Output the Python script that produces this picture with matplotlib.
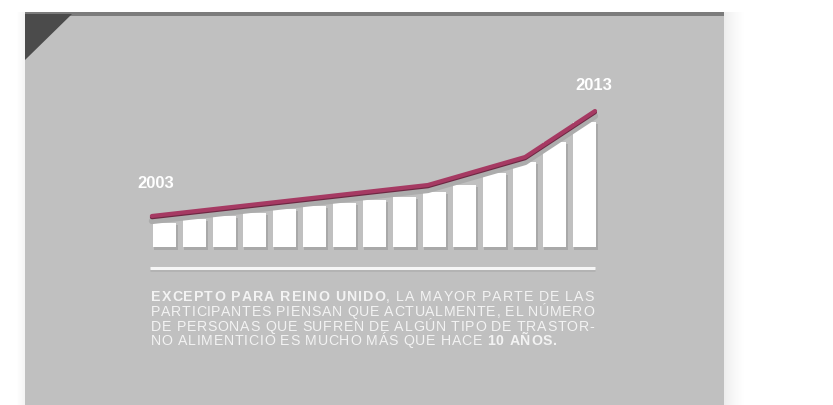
import numpy as np
import matplotlib
matplotlib.use("Agg")
import matplotlib.pyplot as plt
from matplotlib.patches import Rectangle, Polygon

# bar heights (arbitrary units), 2003 -> 2013
bar_vals = [24, 28, 31, 34, 38, 41, 44, 47, 50, 55, 62, 74, 85, 105, 125]
# trend line knots
line_x = [-0.42, 8.78, 12.02, 14.35]
line_y = [31, 62, 90, 136]

year_start = "2003"
year_end = "2013"

para_lines = [
    [("EXCEPTO PARA REINO UNIDO", True), (", LA MAYOR PARTE DE LAS", False)],
    [("PARTICIPANTES PIENSAN QUE ACTUALMENTE, EL NÚMERO", False)],
    [("DE PERSONAS QUE SUFREN DE ALGÚN TIPO DE TRASTOR-", False)],
    [("NO ALIMENTICIO ES MUCHO MÁS QUE HACE ", False), ("10 AÑOS.", True)],
]
para_widths = [443, 443, 443, 406]

plt.rcParams['font.family'] = ['Liberation Sans', 'DejaVu Sans']

fig = plt.figure(figsize=(8.33, 4.05), dpi=100)
fig.patch.set_facecolor('white')

# background in pixel coords
bg = fig.add_axes([0, 0, 1, 1])
bg.set_xlim(0, 833)
bg.set_ylim(405, 0)
bg.axis('off')

# panel shadows
for i in range(22):
    bg.add_patch(Rectangle((724 + i, 12), 1, 400, fc='black', lw=0,
                           alpha=0.07 * (1 - i / 22.0) ** 1.5))
for i in range(8):
    bg.add_patch(Rectangle((24 - i, 12), 1, 400, fc='black', lw=0,
                           alpha=0.04 * (1 - i / 8.0)))
bg.add_patch(Rectangle((25, 12), 699, 400, fc='#c0c0c0', lw=0))
bg.add_patch(Rectangle((25, 12), 699, 4, fc='#7c7c7c', lw=0))
bg.add_patch(Polygon([(25, 14), (72, 14), (25, 60)], closed=True, fc='#4b4b4b', lw=0))

# separator
bg.plot([150, 595], [269.5, 269.5], color='#b2b2b2', lw=2, solid_capstyle='butt')
bg.plot([150, 595], [268, 268], color='#f6f6f6', lw=2.2, solid_capstyle='butt')

# chart axes: bar centre 0 at x=164.5px, pitch 30px; value 0 at y=247px
ax = fig.add_axes([130 / 833, (405 - 251) / 405, 490 / 833, 161 / 405])
ax.set_xlim((130 - 164.5) / 30, (620 - 164.5) / 30)
ax.set_ylim(-4, 157)
ax.axis('off')

x = np.arange(len(bar_vals))
vals = np.array(bar_vals)
ax.bar(x + 0.06, vals + 1, width=0.8, bottom=-2.5, color='#a9a9a9', zorder=2, lw=0)
ax.bar(x, vals, width=0.77, color='white', zorder=3, lw=0)

lx = np.array(line_x)
ly = np.array(line_y)
ax.plot(lx, ly - 5, color='#acacac', lw=4.5, zorder=4, solid_capstyle='round')
ax.plot(lx, ly - 1.2, color='#6d2843', lw=3, zorder=5, solid_capstyle='round')
ax.plot(lx, ly, color='#a63a63', lw=3, zorder=6, solid_capstyle='round')

bg.text(156, 184, year_start, color='white', fontsize=12, fontweight='bold',
        ha='center', va='center')
bg.text(594, 86, year_end, color='white', fontsize=12, fontweight='bold',
        ha='center', va='center')

# paragraph, tracked + justified
fig.canvas.draw()
renderer = fig.canvas.get_renderer()
fs = 10.2
cache = {}


def char_w(c, bold):
    key = (c, bold)
    if key not in cache:
        w = 'bold' if bold else 'normal'
        if c == ' ':
            t1 = bg.text(0, 0, 'I I', fontsize=fs, fontweight=w)
            t2 = bg.text(0, 0, 'II', fontsize=fs, fontweight=w)
            cache[key] = (t1.get_window_extent(renderer).width
                          - t2.get_window_extent(renderer).width)
            t1.remove()
            t2.remove()
        else:
            t = bg.text(0, 0, c, fontsize=fs, fontweight=w)
            cache[key] = t.get_window_extent(renderer).width
            t.remove()
    return cache[key]


y0 = 297
for k, segs in enumerate(para_lines):
    chars = [(c, b) for s, b in segs for c in s]
    total = sum(char_w(c, b) for c, b in chars)
    extra = (para_widths[k] - total) / (len(chars) - 1)
    xp = 151
    for c, b in chars:
        if c != ' ':
            bg.text(xp, y0 + k * 14.8, c, fontsize=fs, color='#f3f3f3',
                    fontweight='bold' if b else 'normal', ha='left', va='center')
        xp += char_w(c, b) + extra

fig.savefig('out.png', dpi=100)
